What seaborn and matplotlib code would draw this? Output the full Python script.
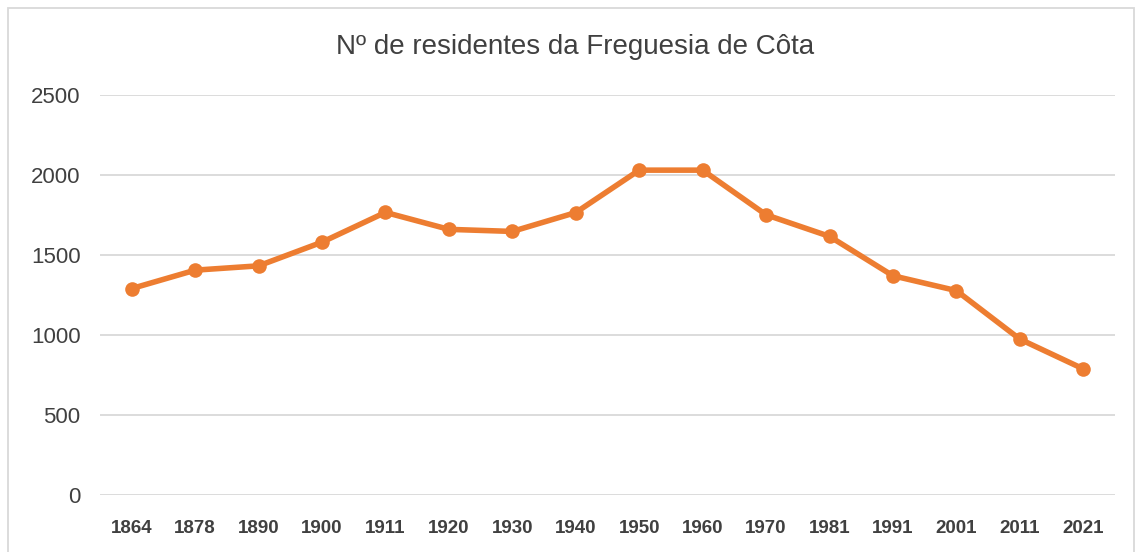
import matplotlib
matplotlib.use("Agg")
import matplotlib.pyplot as plt
import seaborn as sns
import pandas as pd
from matplotlib.patches import Rectangle

# data
anos = ["1864", "1878", "1890", "1900", "1911", "1920", "1930", "1940",
        "1950", "1960", "1970", "1981", "1991", "2001", "2011", "2021"]
residentes = [1290, 1405, 1432, 1580, 1766, 1660, 1647, 1765,
              2030, 2030, 1751, 1616, 1370, 1277, 974, 788]
y_ticks = [0, 500, 1000, 1500, 2000, 2500]

df = pd.DataFrame({"ano": anos, "residentes": residentes})

sns.set_theme(style="white")
plt.rcParams['font.family'] = ['Liberation Sans', 'DejaVu Sans']

fig = plt.figure(figsize=(11.36, 5.52), dpi=100)
ax = fig.add_axes([0.088, 0.1033, 0.8935, 0.7247])

sns.lineplot(data=df, x="ano", y="residentes", ax=ax, sort=False,
             color="#ED7D31", linewidth=4, marker="o", markersize=10.5,
             markeredgewidth=0, zorder=3)

ax.set_xlim(-0.5, len(anos) - 0.5)
ax.set_ylim(0, 2500)
ax.set_yticks(y_ticks)
ax.set_yticklabels([str(t) for t in y_ticks], fontsize=16, color="#404040")
ax.set_xticks(range(len(anos)))
ax.set_xticklabels(anos, fontsize=13.5, color="#404040", fontweight="bold")
ax.tick_params(axis="both", length=0)
ax.tick_params(axis="y", pad=14)
ax.tick_params(axis="x", pad=18)
ax.grid(axis="y", color="#D9D9D9", linewidth=1.3)
ax.set_axisbelow(True)
for s in ax.spines.values():
    s.set_visible(False)
ax.set_xlabel("")
ax.set_ylabel("")

fig.text(0.5066, 0.915, "Nº de residentes da Freguesia de Côta",
         ha="center", va="center", fontsize=20, color="#404040")

# chart area border
fig.patches.append(Rectangle((0.007, -0.01), 0.991, 0.995, transform=fig.transFigure,
                             fill=False, edgecolor="#D9D9D9", linewidth=1.3))

fig.savefig("out.png", dpi=100)
